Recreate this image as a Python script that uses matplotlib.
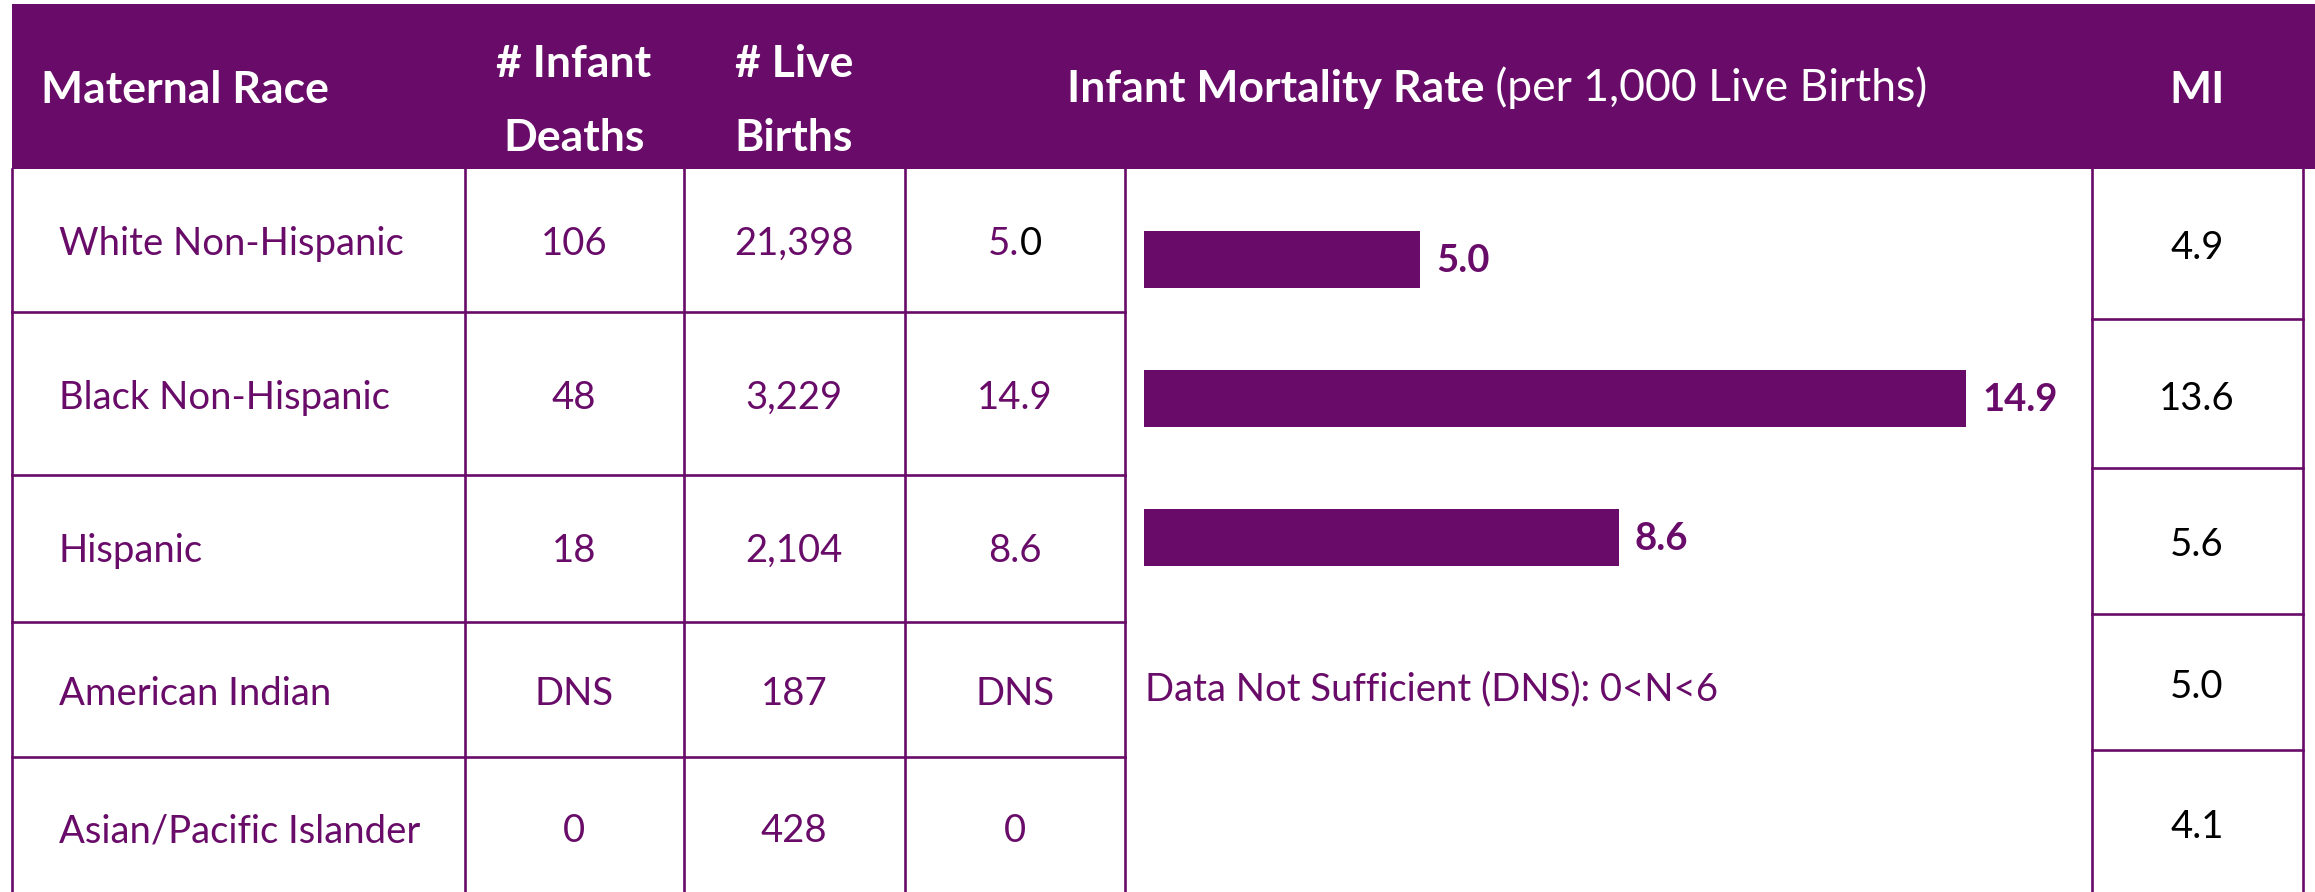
import numpy as np
import matplotlib.pyplot as plt

# table content
races = ["White Non-Hispanic", "Black Non-Hispanic", "Hispanic",
         "American Indian", "Asian/Pacific Islander"]
infant_deaths = ["106", "48", "18", "DNS", "0"]
live_births = ["21,398", "3,229", "2,104", "187", "428"]
imr_labels = ["5.0", "14.9", "8.6", "DNS", "0"]
imr_values = [5.0, 14.9, 8.6]          # bars only where rate is reported
mi_values = ["4.9", "13.6", "5.6", "5.0", "4.1"]
dns_note = "Data Not Sufficient (DNS): 0<N<6"

PURPLE = "#690c69"
W, H = 2315, 892
plt.rcParams["font.family"] = ["Lato", "DejaVu Sans"]
BODY = 27.5
HEAD = 32

fig = plt.figure(figsize=(W / 100, H / 100), dpi=100)
ax = fig.add_axes([0, 0, 1, 1])
ax.set_xlim(0, W)
ax.set_ylim(H, 0)
ax.axis("off")

# header band
head_top, head_bot = 4, 169
ax.add_patch(plt.Rectangle((12, head_top), W - 12, head_bot - head_top,
                           color=PURPLE, lw=0))

# grid lines (pixel layout)
lw = 1.9
for x in [12, 465, 684, 905, 1125]:
    ax.plot([x, x], [head_bot, H], color=PURPLE, lw=lw)
for x in [2092, 2303]:
    ax.plot([x, x], [head_bot, H], color=PURPLE, lw=lw)
for y in [312, 475, 622, 757]:
    ax.plot([12, 1125], [y, y], color=PURPLE, lw=lw)
for y in [319, 468, 614, 750]:
    ax.plot([2092, 2303], [y, y], color=PURPLE, lw=lw)

# header text
hkw = dict(color="white", fontsize=HEAD, fontweight="bold", va="baseline")
ax.text(41, 103, "Maternal Race", **hkw)
ax.text(574, 77, "# Infant", ha="center", **hkw)
ax.text(574, 151, "Deaths", ha="center", **hkw)
ax.text(794, 77, "# Live", ha="center", **hkw)
ax.text(794, 151, "Births", ha="center", **hkw)
ax.text(2197, 103, "MI", ha="center", **hkw)

t_bold = ax.text(0, 102, "Infant Mortality Rate", **hkw)
t_reg = ax.annotate(" (per 1,000 Live Births)", xy=(1, 0), xycoords=t_bold,
                    color="white", fontsize=HEAD, va="bottom", ha="left")

# body rows
row_base = [255, 409, 562, 705, 842]
mi_base = [259, 410, 556, 698, 838]
split_pairs = []
for i, race in enumerate(races):
    yb = row_base[i]
    ax.text(59, yb, race, color=PURPLE, fontsize=BODY, va="baseline")
    ax.text(574, yb, infant_deaths[i], color=PURPLE, fontsize=BODY,
            ha="center", va="baseline")
    ax.text(794, yb, live_births[i], color=PURPLE, fontsize=BODY,
            ha="center", va="baseline")
    lab = imr_labels[i]
    if i == 0:
        # original has the trailing zero in black
        t_a = ax.text(0, yb, lab[:-1], color=PURPLE, fontsize=BODY,
                      ha="left", va="baseline")
        t_b = ax.annotate(lab[-1], xy=(1, 0), xycoords=t_a, color="black",
                          fontsize=BODY, ha="left", va="bottom")
        split_pairs.append((t_a, t_b, 1015))
    else:
        ax.text(1015, yb, lab, color=PURPLE, fontsize=BODY,
                ha="center", va="baseline")
    ax.text(2197, mi_base[i], mi_values[i], color="black", fontsize=BODY,
            ha="center", va="baseline")

ax.text(1145, 700, dns_note, color=PURPLE, fontsize=BODY, va="baseline")

# center the two-part texts
fig.canvas.draw()
r = fig.canvas.get_renderer()
inv = ax.transData.inverted()
for ta, tb, cx in [(t_bold, t_reg, 1497)] + split_pairs:
    x0 = inv.transform((ta.get_window_extent(r).x0, 0))[0]
    x1 = inv.transform((tb.get_window_extent(r).x1, 0))[0]
    ta.set_x(cx - (x1 - x0) / 2)

# bar panel
bx = fig.add_axes([1125 / W, 0, (2092 - 1125) / W, (H - head_bot) / H])
px_per_unit = 55.2
bx.set_xlim(-(1144 - 1125) / px_per_unit, (2092 - 1144) / px_per_unit)
row_step = 139
first_c = 259.5
bx.set_ylim((H - first_c) / row_step, -(first_c - head_bot) / row_step)
ypos = np.arange(len(imr_values))
bx.barh(ypos, imr_values, height=57 / row_step, color=PURPLE)
bx.axis("off")
for yi, v in zip(ypos, imr_values):
    bx.annotate(f"{v:.1f}", xy=(v, yi), xytext=(11.5, -1),
                textcoords="offset points", ha="left", va="center",
                fontsize=BODY, fontweight="bold", color=PURPLE)

fig.savefig("out.png", dpi=100)
